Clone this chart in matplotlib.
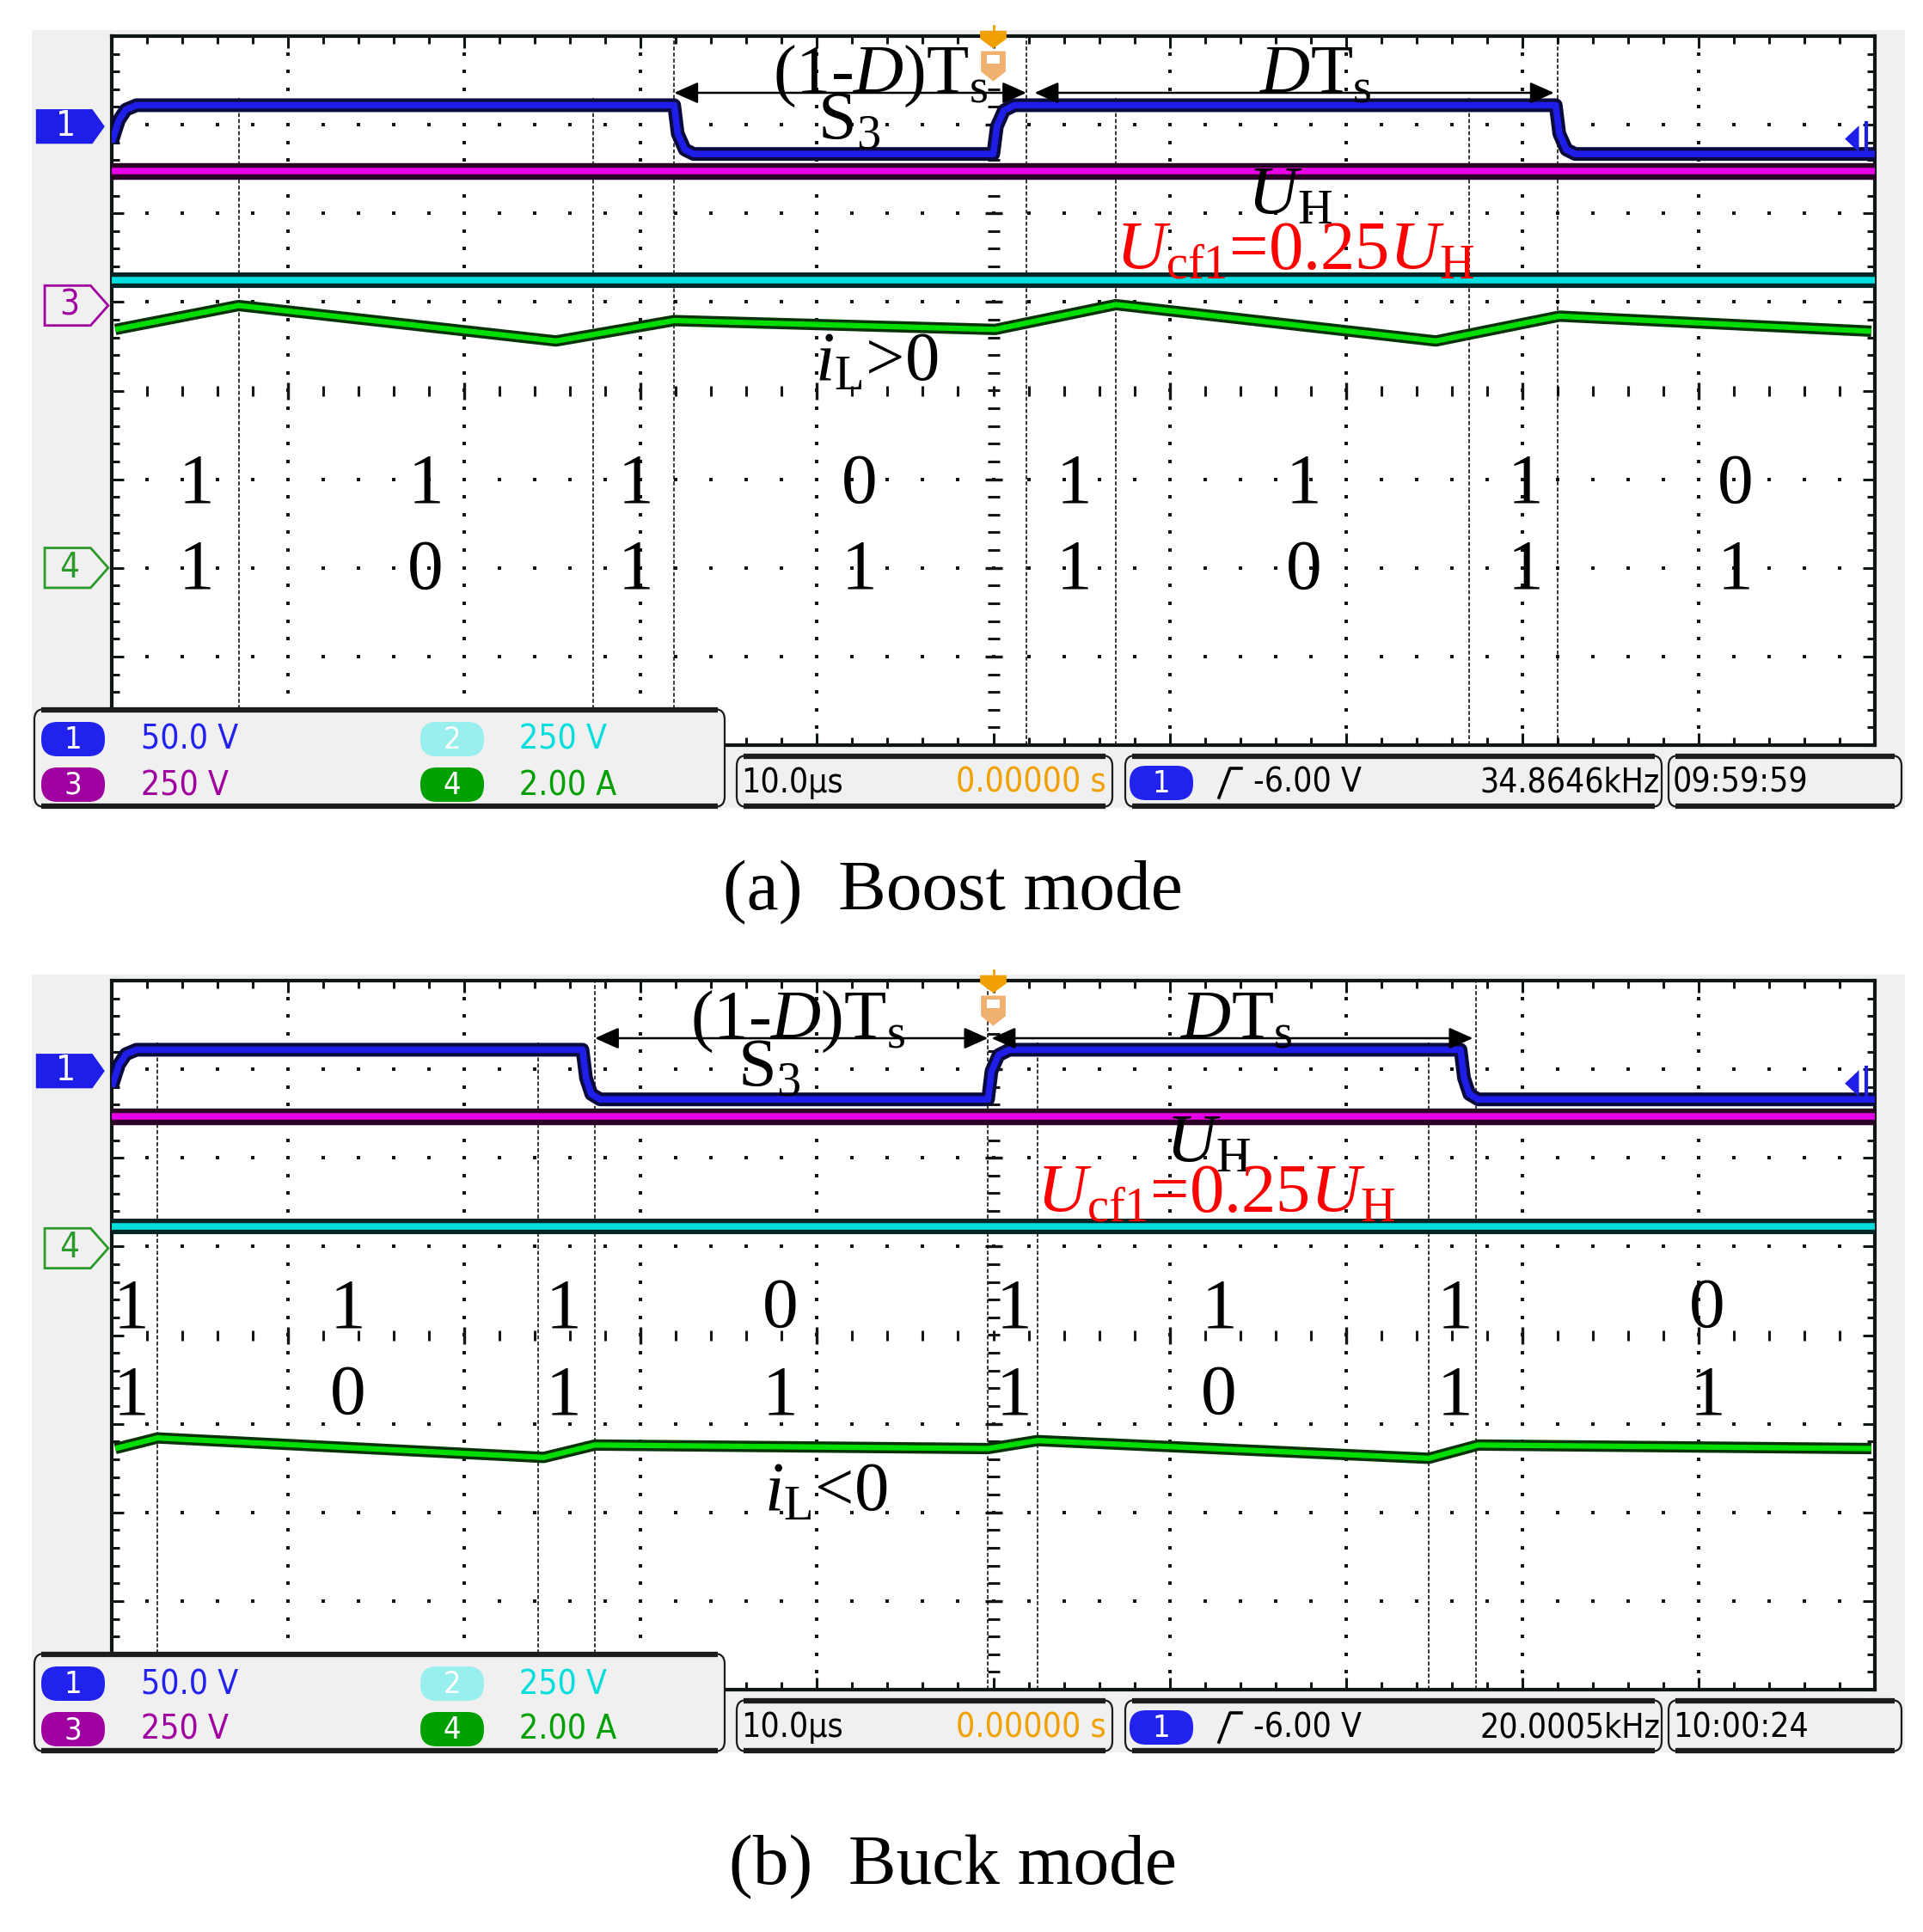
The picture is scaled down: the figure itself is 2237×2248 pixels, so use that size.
import numpy as np
import matplotlib
matplotlib.use('Agg')
import matplotlib.pyplot as plt
from matplotlib.patches import Rectangle, FancyBboxPatch, Polygon
from matplotlib.ticker import MultipleLocator

plt.rcParams['mathtext.fontset'] = 'custom'
plt.rcParams['mathtext.rm'] = 'Liberation Serif'
plt.rcParams['mathtext.it'] = 'Liberation Serif:italic'
plt.rcParams['mathtext.bf'] = 'Liberation Serif:bold'
plt.rcParams['mathtext.sf'] = 'Liberation Serif'
plt.rcParams['font.family'] = ['Liberation Serif', 'DejaVu Sans']

# ------------------------------------------------------------------ data
# time in microseconds (10 us/div, centre = 0), amplitude in screen divisions
# ---- (a) Boost mode
ch1_a_t = [-50, -49.6, -49.2, -48.6, -18.1, -17.9, -17.5, -17.0, 0.0, 0.2, 0.6, 1.2, 31.9, 32.1, 32.5, 33.0, 50]
ch1_a_v = [2.80, 3.05, 3.17, 3.22, 3.22, 2.90, 2.72, 2.67, 2.67, 2.98, 3.16, 3.22, 3.22, 2.90, 2.72, 2.67, 2.67]
ch3_a_t = [-50, 50]
ch3_a_v = [2.48, 2.48]
ch2_a_t = [-50, 50]
ch2_a_v = [1.25, 1.25]
ch4_a_t = [-49.8, -42.8, -24.8, -18.1, 0.1, 6.95, 25.1, 32.1, 49.8]
ch4_a_v = [0.69, 0.96, 0.56, 0.79, 0.69, 0.97, 0.56, 0.84, 0.67]
dash_a_t = [-42.8, -22.7, -18.1, 1.88, 6.95, 27.0, 32.0]
dash_a_top = [3.3, 3.3, 4.0, 4.0, 3.3, 3.3, 4.0]
state_a_t = [-45.2, -32.2, -20.3, -7.6, 4.6, 17.6, 30.2, 42.1]
state_row1 = ['1', '1', '1', '0', '1', '1', '1', '0']
state_row2 = ['1', '0', '1', '1', '1', '0', '1', '1']

# ---- (b) Buck mode
ch1_b_t = [-50, -49.6, -49.2, -48.6, -23.3, -23.1, -22.8, -22.3, -0.3, -0.1, 0.3, 0.9, 26.5, 26.7, 27.0, 27.5, 50]
ch1_b_v = [2.80, 3.05, 3.17, 3.22, 3.22, 2.90, 2.72, 2.66, 2.66, 2.98, 3.16, 3.22, 3.22, 2.90, 2.72, 2.66, 2.66]
ch3_b_t = [-50, 50]
ch3_b_v = [2.47, 2.47]
ch2_b_t = [-50, 50]
ch2_b_v = [1.23, 1.23]
ch4_b_t = [-49.8, -47.4, -25.5, -22.6, -0.3, 2.5, 24.7, 27.5, 49.8]
ch4_b_v = [-1.28, -1.16, -1.38, -1.24, -1.28, -1.19, -1.39, -1.24, -1.28]
dash_b_t = [-47.4, -25.8, -22.6, -0.3, 2.5, 24.7, 27.4]
dash_b_top = [3.3, 3.3, 4.0, 4.0, 3.3, 3.3, 4.0]
state_b_t = [-48.9, -36.6, -24.4, -12.1, 1.15, 12.8, 26.2, 40.5]

# ---- scope status texts
scale_labels = ['50.0 V', '250 V', '250 V', '2.00 A']
timebase_label = '10.0µs'
delay_label = '0.00000 s'
trig_label = '-6.00 V'
freq_labels = ['34.8646kHz', '20.0005kHz']
clock_labels = ['09:59:59', '10:00:24']
captions = ['(a)  Boost mode', '(b)  Buck mode']

# ------------------------------------------------------------------ layout
W, H = 2237, 2248
fig = plt.figure(figsize=(W / 100, H / 100), dpi=100)
fig.patch.set_facecolor('white')

bg = fig.add_axes([0, 0, 1, 1], zorder=-1)
bg.set_xlim(0, W); bg.set_ylim(H, 0); bg.axis('off')
ov = fig.add_axes([0, 0, 1, 1], zorder=5)
ov.set_xlim(0, W); ov.set_ylim(H, 0); ov.axis('off')

NARROW = ['DejaVu Sans']
SERIF = ['Liberation Serif', 'DejaVu Serif']
FRAME = '#101616'

BLUE = '#1e1ee8'
MAG = '#e600e6'
CYAN = '#00dede'
GREEN = '#00dd00'

panel_top = [42, 1141]
frame_h = 825
frame_l, frame_r = 130, 2181


def trace(ax, t, v, dark, core, wd, wc):
    ax.plot(t, v, color=dark, lw=wd, solid_capstyle='butt', solid_joinstyle='round', zorder=3)
    ax.plot(t, v, color=core, lw=wc, solid_capstyle='butt', solid_joinstyle='round', zorder=4)


def ch_marker(ax, level, label, color, filled):
    if filled:
        x0, x1, x2, hh = -54.3, -51.1, -50.4, 0.195
    else:
        x0, x1, x2, hh = -53.8, -51.2, -50.2, 0.225
    poly = Polygon([(x0, level - hh), (x1, level - hh), (x2, level), (x1, level + hh), (x0, level + hh)],
                   closed=True, facecolor=color if filled else 'none', edgecolor=color,
                   lw=0 if filled else 2.0, clip_on=False, zorder=6)
    ax.add_patch(poly)
    ax.text((x0 + x1) / 2 + 0.1, level, label, color='white' if filled else color, ha='center',
            va='center', fontsize=29, family=NARROW, fontstretch='condensed', clip_on=False, zorder=7)


def build_panel(idx, ch1t, ch1v, ch3t, ch3v, ch2t, ch2v, ch4t, ch4v, dt, dtop, st,
                arrow1, arrow2, txt):
    top = panel_top[idx]
    ax = fig.add_axes([frame_l / W, 1 - (top + frame_h) / H, (frame_r - frame_l) / W, frame_h / H], zorder=0)
    ax.set_xlim(-50, 50)
    ax.set_ylim(-4, 4)
    ax.set_facecolor('white')
    for s in ax.spines.values():
        s.set_linewidth(3.0)
        s.set_color(FRAME)
    ax.xaxis.set_major_locator(MultipleLocator(10))
    ax.xaxis.set_minor_locator(MultipleLocator(2))
    ax.yaxis.set_major_locator(MultipleLocator(1))
    ax.yaxis.set_minor_locator(MultipleLocator(0.2))
    ax.tick_params(which='both', direction='in', top=True, right=True, bottom=True, left=True,
                   labelbottom=False, labelleft=False, color=FRAME)
    ax.tick_params(which='major', length=10, width=2.2)
    ax.tick_params(which='minor', length=6.5, width=2.2)

    # graticule dots
    gx = [-40, -30, -20, -10, 10, 20, 30, 40]
    dy = np.arange(-3.8, 3.81, 0.2)
    for x in gx:
        ax.scatter(np.full(dy.size, x), dy, s=6, marker='s', color='#151515', linewidths=0, zorder=1)
    gy = [-3, -2, -1, 1, 2, 3]
    dx = np.arange(-48, 48.1, 2)
    for y in gy:
        ax.scatter(dx, np.full(dx.size, y), s=6, marker='s', color='#151515', linewidths=0, zorder=1)
    # centre axes
    ax.scatter(np.zeros(dy.size), dy, s=110, marker='_', color='#151515', linewidths=2.2, zorder=1)
    ax.scatter(dx, np.zeros(dx.size), s=80, marker='|', color='#151515', linewidths=2.2, zorder=1)
    mj = np.array([-40, -30, -20, -10, 10, 20, 30, 40])
    ax.scatter(mj, np.zeros(mj.size), s=200, marker='|', color='#151515', linewidths=2.4, zorder=1)
    my = np.array([-3, -2, -1, 1, 2, 3])
    ax.scatter(np.zeros(my.size), my, s=220, marker='_', color='#151515', linewidths=2.4, zorder=1)

    # dashed markers
    for x, tp in zip(dt, dtop):
        ax.plot([x, x], [-4, tp], color='black', lw=1.1, dashes=(3, 1.6), zorder=2)

    # traces
    trace(ax, ch3t, ch3v, '#2a0424', MAG, 14, 5.5)
    trace(ax, ch2t, ch2v, '#022626', CYAN, 13, 5.5)
    trace(ax, ch4t, ch4v, '#073307', GREEN, 9.5, 4.5)
    trace(ax, ch1t, ch1v, '#0a0a3c', BLUE, 11.5, 5.5)

    # channel markers
    ch_marker(ax, 2.98, '1', BLUE, True)
    if idx == 0:
        ch_marker(ax, 0.96, '3', '#a000a0', False)
        ch_marker(ax, -2.0, '4', '#2a9a2a', False)
    else:
        ch_marker(ax, 0.98, '4', '#2a9a2a', False)

    # trigger position marker (top centre)
    ax.plot([0, 0], [4.08, 4.12], color='#f0a000', lw=2, clip_on=False, zorder=8)
    ax.add_patch(Polygon([(-0.75, 4.06), (0.75, 4.06), (0.75, 3.97), (0, 3.86), (-0.75, 3.97)],
                         closed=True, fc='#f0a000', ec='none', clip_on=False, zorder=8))
    ax.add_patch(Polygon([(-0.7, 3.83), (0.7, 3.83), (0.7, 3.6), (0, 3.49), (-0.7, 3.6)],
                         closed=True, fc='#f0b070', ec='none', clip_on=False, zorder=8))
    ax.add_patch(Rectangle((-0.35, 3.69), 0.7, 0.1, fc='white', ec='none', zorder=9))
    # trigger level marker (right)
    ax.add_patch(Polygon([(48.3, 2.84), (49.1, 2.99), (49.1, 2.69)], closed=True, fc=BLUE, ec='none', zorder=8))
    ax.plot([49.5, 49.5], [2.66, 3.02], color=BLUE, lw=3, zorder=8)

    # arrows
    ap = dict(arrowstyle='<|-|>,head_length=0.85,head_width=0.38', mutation_scale=20, lw=1.8,
              color='black', shrinkA=0, shrinkB=0)
    ax.annotate('', xy=(arrow1[1], arrow1[2]), xytext=(arrow1[0], arrow1[2]), arrowprops=ap, zorder=10)
    ax.annotate('', xy=(arrow2[1], arrow2[2]), xytext=(arrow2[0], arrow2[2]), arrowprops=ap, zorder=10)

    # annotations
    fs = 58
    for (s, x, y, c) in txt:
        ax.text(x, y, s, ha='center', va='baseline', fontsize=fs, color=c, zorder=11)
    for x, a, b in zip(st, state_row1, state_row2):
        ax.text(x, row_y[idx][0], a, ha='center', va='baseline', fontsize=60, family=SERIF, zorder=11)
        ax.text(x, row_y[idx][1], b, ha='center', va='baseline', fontsize=60, family=SERIF, zorder=11)
    return ax


row_y = [(-1.26, -2.23), (0.09, -0.89)]

txt_a = [(r'$\text{(1-}D\text{)T}_\text{s}$', -6.4, 3.36, 'black'),
         (r'$\text{S}_\text{3}$', -8.2, 2.83, 'black'),
         (r'$D\text{T}_\text{s}$', 18.3, 3.36, 'black'),
         (r'$U_\text{H}$', 16.8, 1.98, 'black'),
         (r'$U_\text{cf1}\text{=0.25}U_\text{H}$', 17.1, 1.37, '#ff0000'),
         (r'$i_\text{L}\text{>0}$', -6.6, 0.11, 'black')]
txt_b = [(r'$\text{(1-}D\text{)T}_\text{s}$', -11.1, 3.35, 'black'),
         (r'$\text{S}_\text{3}$', -12.7, 2.80, 'black'),
         (r'$D\text{T}_\text{s}$', 13.8, 3.35, 'black'),
         (r'$U_\text{H}$', 12.2, 1.95, 'black'),
         (r'$U_\text{cf1}\text{=0.25}U_\text{H}$', 12.65, 1.39, '#ff0000'),
         (r'$i_\text{L}\text{<0}$', -9.5, -1.98, 'black')]

build_panel(0, ch1_a_t, ch1_a_v, ch3_a_t, ch3_a_v, ch2_a_t, ch2_a_v, ch4_a_t, ch4_a_v,
            dash_a_t, dash_a_top, state_a_t, (-18.1, 1.88, 3.36), (2.34, 31.8, 3.36), txt_a)
build_panel(1, ch1_b_t, ch1_b_v, ch3_b_t, ch3_b_v, ch2_b_t, ch2_b_v, ch4_b_t, ch4_b_v,
            dash_b_t, dash_b_top, state_b_t, (-22.6, -0.3, 3.35), (-0.1, 27.2, 3.35), txt_b)


# ------------------------------------------------------------------ scope chrome
def box(x0, y0, x1, y1, lw_side=1.6, lw_tb=4.5):
    ov.add_patch(FancyBboxPatch((x0, y0), x1 - x0, y1 - y0, boxstyle='round,pad=0,rounding_size=12',
                                fc='#f0f0f0', ec='#1c1c1c', lw=lw_side, zorder=2))
    ov.plot([x0 + 8, x1 - 8], [y0 + 1, y0 + 1], color='#1c1c1c', lw=lw_tb, solid_capstyle='butt', zorder=3)
    ov.plot([x0 + 8, x1 - 8], [y1 - 1, y1 - 1], color='#1c1c1c', lw=lw_tb, solid_capstyle='butt', zorder=3)


def stxt(x, y, s, color, ha='left'):
    ov.text(x, y, s, color=color, va='center', ha=ha, fontsize=FS_S, family=NARROW,
            fontstretch='condensed', zorder=5)


def pill(cx, cy, color, label, tcolor='white'):
    ov.add_patch(FancyBboxPatch((cx - 37, cy - 20), 74, 40, boxstyle='round,pad=0,rounding_size=19',
                                fc=color, ec='none', zorder=4))
    ov.text(cx, cy + 1, label, color=tcolor, ha='center', va='center', fontsize=26,
            family=NARROW, fontstretch='condensed', zorder=5)


FS_S = 28
for i, off in enumerate([0, 1099]):
    # grey screen background
    bg.add_patch(Rectangle((37, 35 + off), 2216 - 37, 940 - 35, fc='#f0f0f0', ec='none'))
    # channel scale box
    box(40, 825 + off, 843, 939 + off)
    pill(85, 860 + off, '#2222ee', '1')
    pill(526, 860 + off, '#99eeee', '2')
    pill(85, 913 + off, '#a000a0', '3')
    pill(526, 913 + off, '#00a000', '4')
    stxt(164, 861 + off, scale_labels[0], '#2222ee')
    stxt(604, 861 + off, scale_labels[1], '#00dede')
    stxt(164, 914 + off, scale_labels[2], '#a000a0')
    stxt(604, 914 + off, scale_labels[3], '#00a000')
    # timebase box
    box(857, 879 + off, 1294, 939 + off)
    stxt(862, 911 + off, timebase_label, 'black')
    stxt(1287, 911 + off, delay_label, '#f0a000', ha='right')
    # trigger box
    box(1309, 879 + off, 1933, 939 + off)
    pill(1351, 911 + off, '#2222ee', '1')
    ov.plot([1418, 1431, 1444], [928 + off, 894 + off, 894 + off], color='black', lw=2.6, zorder=5)
    stxt(1458, 911 + off, trig_label, 'black')
    stxt(1931, 911 + off, freq_labels[i], 'black', ha='right')
    # clock box
    box(1941, 879 + off, 2212, 939 + off)
    stxt(1946, 911 + off, clock_labels[i], 'black')

# captions
ov.text(1108, 1058, captions[0], ha='center', va='baseline', fontsize=60, family=SERIF, zorder=5)
ov.text(1108, 2192, captions[1], ha='center', va='baseline', fontsize=60, family=SERIF, zorder=5)

fig.savefig('out.png', dpi=100, facecolor='white')
